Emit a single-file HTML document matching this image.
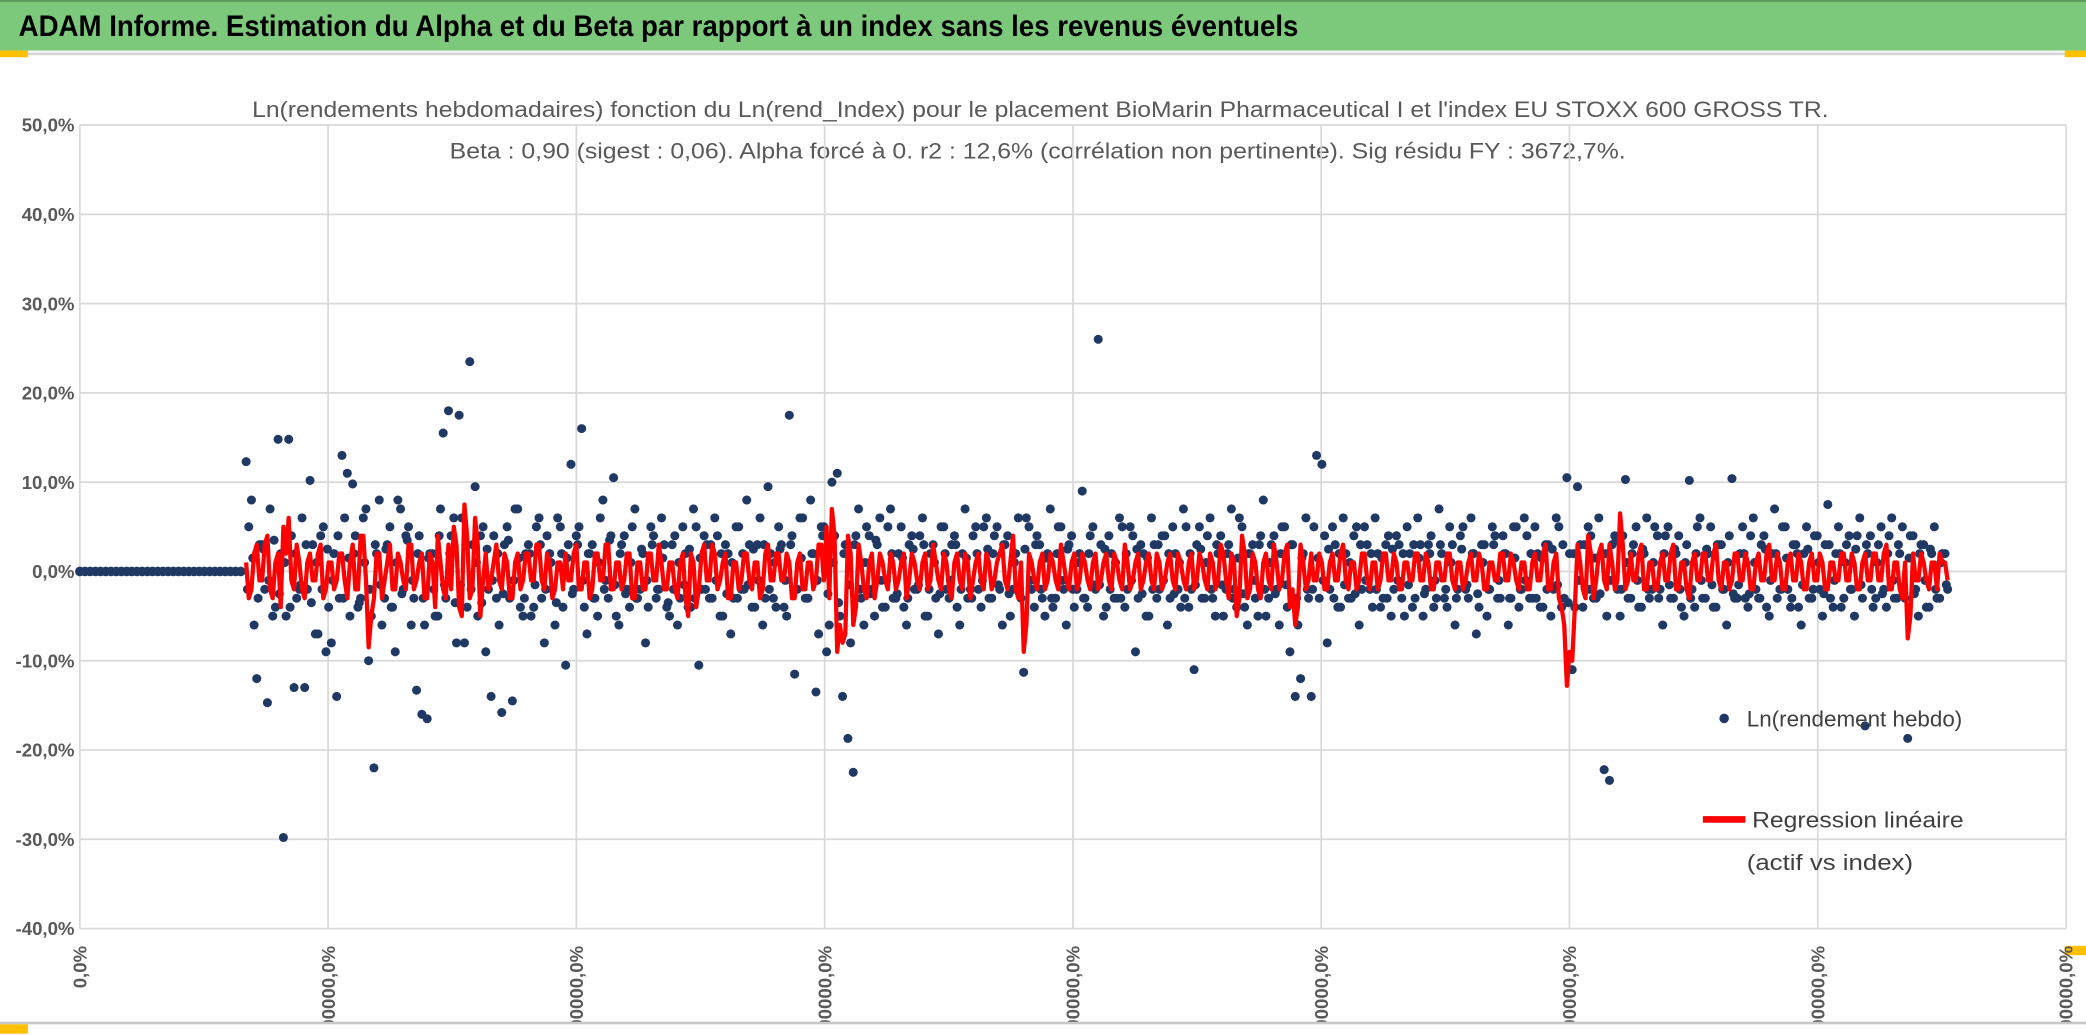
<!DOCTYPE html>
<html><head><meta charset="utf-8"><style>html,body{margin:0;padding:0;background:#fff;overflow:hidden}svg{display:block}</style></head>
<body>
<svg id="chart" width="2086" height="1035" viewBox="0 0 1568 778" preserveAspectRatio="none" xmlns="http://www.w3.org/2000/svg" font-family="'Liberation Sans', sans-serif">
<defs><clipPath id="xclip"><rect x="0" y="700" width="1568" height="68"/></clipPath></defs>
<rect x="0" y="0" width="1568" height="778" fill="#fff"/>
<rect x="0" y="0" width="1568" height="38" fill="#7DC97C"/>
<rect x="0" y="0" width="1568" height="1.5" fill="#5a9a5a"/>
<text x="14" y="27" font-size="22" font-weight="bold" fill="#000" textLength="962" lengthAdjust="spacingAndGlyphs">ADAM Informe. Estimation du Alpha et du Beta par rapport à un index sans les revenus éventuels</text>
<rect x="0" y="39.5" width="1568" height="2" fill="#d4d4d4"/>
<rect x="0" y="38" width="21" height="5" fill="#FFC000"/>
<rect x="1552" y="38" width="16" height="5" fill="#FFC000"/>
<rect x="0" y="768" width="1568" height="2" fill="#c8c8c8"/>
<rect x="0" y="770" width="21" height="7" fill="#FFC000"/>
<rect x="1552" y="711" width="16" height="7" fill="#FFC000"/>
<text x="782" y="88" font-size="17" fill="#595959" text-anchor="middle" textLength="1185" lengthAdjust="spacingAndGlyphs">Ln(rendements hebdomadaires) fonction du Ln(rend_Index) pour le placement BioMarin Pharmaceutical I et l'index EU STOXX 600 GROSS TR.</text>
<text x="780" y="119" font-size="17" fill="#595959" text-anchor="middle" textLength="884" lengthAdjust="spacingAndGlyphs">Beta : 0,90 (sigest : 0,06). Alpha forcé à 0. r2 : 12,6% (corrélation non pertinente). Sig résidu FY : 3672,7%.</text>
<g id="grid"></g>
<g id="ylabels"></g>
<g id="xlabels" clip-path="url(#xclip)"></g>
<g id="blue"></g>
<path id="redline" fill="none" stroke="#FF0000" stroke-width="3.2" stroke-linejoin="round"/>
<circle cx="1296" cy="540" r="3.6" fill="#203864"/>
<text x="1313" y="546" font-size="17" fill="#404040" textLength="162" lengthAdjust="spacingAndGlyphs">Ln(rendement hebdo)</text>
<line x1="1280" y1="616" x2="1312" y2="616" stroke="#FF0000" stroke-width="5"/>
<text x="1317" y="622" font-size="17" fill="#404040" textLength="159" lengthAdjust="spacingAndGlyphs">Regression linéaire</text>
<text x="1313" y="654" font-size="17" fill="#404040" textLength="125" lengthAdjust="spacingAndGlyphs">(actif vs index)</text>
</svg>
<script>
const yTicks=[50,40,30,20,10,0,-10,-20,-30,-40];
const yTickLabels=["50,0%","40,0%","30,0%","20,0%","10,0%","0,0%","-10,0%","-20,0%","-30,0%","-40,0%"];
const xTickLabels=["0,0%","100000,0%","200000,0%","300000,0%","400000,0%","500000,0%","600000,0%","700000,0%","800000,0%"];
const leadZeros=32;
const blue=[12.3,8,-12,3,-14.7,-5,14.8,-29.8,14.8,-13,-2,-13,10.2,-7,4,-9,-8,-14,13,11,
9.8,-4,6,-10,-22,8,-3,5,-9,7,4,-6,-13.3,-16,-16.5,2,-5,15.5,18,6,
17.5,-8,23.5,9.5,4,-9,-14,-3,-15.8,5,-14.5,7,-5,3,-4,6,-8,2,-6,5,
-10.5,12,4,16,-7,3,-5,8,-3,10.5,-6,4,-4,7,-2,-8,5,-3,6,-4,
3,-6,5,-4,7,-10.5,4,-3,6,-5,3,-7,5,-2,8,-4,3,-6,9.5,-3,
5,-4,17.5,-11.5,6,-3,8,-13.5,5,-9,10,11,-14,-18.7,-22.5,7,-6,4,-5,6,
-4,7,-3,5,-6,4,-2,6,-5,3,-7,5,-3,4,-6,7,-2,5,-4,6,
-3,5,-6,4,-2,6,-11.3,5,-4,3,-5,7,-3,5,-6,4,-2,9,-4,5,
26,-5,4,-3,6,-4,5,-9,3,-5,6,-3,4,-6,5,-2,7,-4,-11,5,
-3,6,-5,4,-2,7,-4,5,-6,3,-5,8,-3,4,-6,5,-9,-14,-12,6,
-14,13,12,-8,5,-4,6,-3,4,-6,5,-2,6,-4,3,-5,4,-3,5,-4,
6,-5,3,-4,7,-3,5,-6,4,-2,6,-7,3,-5,5,-3,4,-6,5,-4,
6,-3,5,-4,3,-5,6,-4,10.5,-11,9.5,-4,5,-3,6,-22.2,-23.4,4,-5,10.3,
-3,5,-4,6,-2,4,-6,5,-3,4,-5,10.2,-4,6,-3,5,-4,3,-6,10.4,
-3,5,-4,6,-3,4,-5,7,-2,5,-4,3,-6,5,-3,4,-5,7.5,-4,5,
-3,4,-5,6,-17.3,4,-3,5,-4,6,-3,5,-18.7,4,-5,3,-4,5,-3,2];
const blue2=[5,-6,3,-2,7,-4,2,-5,4,-3,6,-2,3,-7,5,-4,2,-3,6,-5,
4,-3,7,-5,2,-6,3,-4,8,-2,5,-3,4,-6,2,-5,7,-3,4,-8,
6,-4,3,-5,5,-2,4,-6,3,-3,7,-4,2,-5,5,-3,4,-2,6,-4,
3,-2,5,-4,2,-3,6,-1,4,-5,3,-2,5,-3,2,-4,4,-2,3,-5,
4,-3,2,-4,5,-2,3,-3,4,-5,2,-3,5,-2,3,-4,6,-3,2,-4,
3,-5,4,-2,6,-3,2,-7,5,-6,4,-5,3,-8,4,-3,5,-2,3,-4,
5,-3,2,-4,3,-2,4,-5,2,-3,5,-2,3,-4,2,-3,4,-2,5,-3,
4,-2,3,-5,2,-3,6,-2,4,-3,2,-4,5,-2,3,-4,2,-3,4,-2,
3,-4,2,-3,5,-2,4,-3,2,-5,3,-2,4,-3,2,-4,5,-2,3,-3,
4,-3,2,-5,3,-2,6,-4,2,-3,4,-5,3,-2,5,-4,3,-6,2,-3,
5,-3,4,-2,3,-4,2,-3,5,-2,3,-4,2,-3,4,-2,3,-5,2,-3,
3,-2,4,-3,2,-4,3,-2,5,-3,2,-4,3,-2,4,-3,2,-3,5,-2,
4,-3,2,-4,3,-2,5,-3,2,-4,3,-2,4,-3,2,-5,3,-2,4,-3,
3,-4,2,-3,5,-2,4,-3,2,-4,3,-2,5,-3,2,-4,3,-2,4,-3,
2,-3,4,-2,3,-4,2,-3,5,-2,3,-4,2,-3,4,-2,3,-3,2,-4,
3,-2,4,-3,2,-4,3,-2,4,-3,2,-3,4,-2,3,-4,2,-3,2,-2];
const blue3=[-2,1.5,-3,2.5,-1,3.5,-2.5,1,-4,2,-1.5,3,-3.5,1,-2,2.5,-1,4,-3,1.5,
2,-3.5,1,-2,3,-1.5,2.5,-4,1,-2.5,3.5,-1,2,-3,1.5,-2,4,-1.5,2,-3.5,
-1.5,3,-2,1,-3.5,2.5,-1,2,-2.5,3.5,-1,1.5,-3,2,-1.5,3,-2,1,-3.5,2,
1.5,-2.5,3,-1,2,-3,1,-2,3.5,-1.5,2,-2.5,1,-3,2.5,-1,3,-2,1.5,-3.5,
-2,1,-1.5,2.5,-3,1.5,-2,3,-1,2,-2.5,1,-3,2,-1.5,2.5,-1,3,-2,1,
2.5,-1,3,-2,1.5,-3,2,-1,4,-2.5,1,-3.5,2,-1.5,3,-2,1,-2.5,3.5,-1,
-1,2,-2.5,1.5,-3,2.5,-1.5,3,-2,1,-2.5,2,-1,3,-2,1.5,-3,2,-1,2.5,
2,-1.5,3,-2.5,1,-2,2.5,-1,3,-2,1.5,-3,2,-1,2.5,-2,1,-3,2,-1.5,
-1.5,2.5,-2,1,-3,2,-1,2.5,-2.5,1.5,-2,3,-1,2,-2.5,1,-3,2,-1.5,2.5,
1,-2,3,-1.5,2,-3,1.5,-2.5,2,-1,3,-2,1,-2.5,2,-1.5,3,-3,1.5,-2,
-2,1.5,-1,2.5,-3,2,-1.5,1,-2.5,3,-1,2,-2,1.5,-3,2.5,-1,2,-1.5,3,
1.5,-2.5,2,-1,3,-2,1,-3,2.5,-1.5,2,-2.5,1,-2,3,-1,2,-3,1.5,-2,
-1,2,-3,1.5,-2,2.5,-1.5,3,-3.5,2,-1,3,-2,1.5,-2.5,2,-1,3.5,-2,1,
2,-1,2.5,-2,1,-3,2,-1.5,2.5,-2,1,-3,2,-1,2.5,-1.5,3,-2,1,-2.5,
-1.5,2,-2.5,1,-3,2.5,-1,2,-2,1.5,-3,2,-1.5,2.5,-2,1,-2.5,3,-1,2,
1,-2,2.5,-1.5,3,-2,1,-2.5,2,-1,3,-2,1.5,-2.5,2,-1,2.5,-2,1,-1.5];
const red=[1,-2,3,-1,4,-3,2,5,6,-2,1,-3,2,-1,3,-2,1,-1,2,-3,
3,-2,4,-8.5,-3,2,-1,3,-2,1,-2,3,-1,2,-3,1,4,-2,3,5,
-4,7.5,-3,6,-5,2,-1,3,-2,1,-3,2,-1,2,-1,3,-2,1,-2,1,
2,-1,3,-2,1,-2,2,-1,3,-2,1,-1,2,-3,1,-2,2,-1,1,-2,
1,-3,2,-5,1,-2,3,-1,2,-1,2,-3,1,-1,2,-2,1,-2,3,-1,
2,-1,1,-3,2,-2,1,-1,3,5,7,-9,-8,4,-6,3,-2,1,-3,2,
-1,2,-2,1,-3,2,-1,1,-2,3,-1,2,-2,1,-1,2,-3,1,-1,2,
-2,1,3,-2,4,-3,-9,2,-1,1,-2,2,-1,3,-1,1,-2,2,-1,1,
-2,1,-1,2,-1,3,-2,1,-2,1,-1,2,-2,1,-1,2,-1,1,-2,2,
-1,2,-2,3,-1,2,-5,4,-3,2,-2,1,-1,3,-2,2,-4,-6,3,-2,
2,-1,1,-2,2,-1,3,-2,1,-1,2,-2,1,-1,2,-1,1,-2,1,-1,
2,-1,1,-2,1,-1,2,-2,1,-1,2,-1,1,-2,1,-1,2,-1,1,-2,
1,-2,2,-1,3,-2,2,-4,-12.8,-10,3,-2,4,-3,2,-1,3,-2,6.5,-2,
2,-1,3,-2,1,-2,2,-1,3,-2,1,-3,2,-1,2,-1,3,-2,1,-1,
2,-1,1,-2,2,-1,3,-1,1,-2,2,-1,1,-2,2,-1,1,-2,1,-1,
2,-1,1,-2,2,-1,2,-1,3,-2,1,-3,-7.5,2,-1,1,-2,1,2,1];
const redB=[-3,2,-1,3,-2,1,-4,2,-1,3,-2,1,-1,2,-3,1,-2,2,-1,1,
-2,4,-1,-5,2,-3,1,-2,2,-1,3,-2,1,-3,2,-4,1,-3,-2,3,
-5,4,-2,3,-1,-2,1,-1,2,-3,1,-2,2,-1,3,-1,2,-3,1,-2,
-1,2,-2,1,-3,2,-1,3,-2,1,-2,2,-3,1,-2,2,-1,3,-2,1,
-2,1,-3,2,-4,2,-1,3,-2,1,-3,1,-2,2,-1,1,-3,2,-1,2,
-1,2,-3,1,-2,1,-2,3,-1,-3,4,-6,-7,2,-4,1,-3,2,-1,1,
-2,1,-1,2,-1,1,-2,2,-1,1,-2,1,-3,2,-2,1,-1,2,-2,1,
-1,2,-1,1,-2,1,-6,1,-2,2,-1,1,-2,1,-2,2,-1,1,-2,2,
-1,2,-2,1,-2,1,-1,2,-1,2,-2,1,-1,2,-2,1,-2,2,-1,1,
-2,1,-1,2,-3,1,-3,2,-2,1,-3,2,-2,1,-1,3,-2,-4,1,-1,
-1,2,-2,1,-1,2,-1,1,-2,2,-1,1,-2,2,-1,2,-2,1,-1,2,
-1,2,-2,1,-1,2,-1,1,-2,1,-1,2,-2,1,-1,2,-1,2,-1,1,
-2,1,-1,2,-2,1,-3,-6,-9,-4,1,-3,2,-1,3,-2,1,-1,3,-1,
-1,2,-2,1,-2,1,-1,2,-2,1,-2,1,-1,2,-1,2,-1,1,-2,2,
-1,2,-2,1,-1,2,-1,2,-2,1,-1,2,-2,1,-1,2,-2,1,-1,2,
-1,2,-2,1,-1,2,-1,2,-2,1,-2,1,-5,-1,2,-1,1,-2,1,-1];

const NS='http://www.w3.org/2000/svg';
const PL=60,PR=1553,PT=94,PB=698,YMAX=50,YMIN=-40,DS=185,DE=1462;
function yS(v){return PT+(YMAX-v)/(YMAX-YMIN)*(PB-PT);}
function xS(i,n){return DS+i*(DE-DS)/(n-1);}
function xZ(j){return PL+j*(DS-4-PL)/(leadZeros-1);}
function mk(tag,attrs,parent){const e=document.createElementNS(NS,tag);for(const k in attrs)e.setAttribute(k,attrs[k]);parent.appendChild(e);return e;}

const grid=document.getElementById('grid'),yl=document.getElementById('ylabels'),xl=document.getElementById('xlabels');
yTicks.forEach((t,i)=>{
  const g=mk('line',{x1:PL,x2:PR,y1:yS(t),y2:yS(t),stroke:'#d9d9d9','stroke-width':1.3},grid);
  
  
  const tx=mk('text',{x:56,y:yS(t)+5,'font-size':14,'font-weight':'bold',fill:'#595959','text-anchor':'end'},yl);
  
  
  tx.textContent=yTickLabels[i];
});
xTickLabels.forEach((lab,k)=>{
  const x=PL+k*(PR-PL)/(xTickLabels.length-1);
  const g=mk('line',{x1:x,x2:x,y1:PT,y2:PB,stroke:'#d9d9d9','stroke-width':1.3},grid);
  
  
  const tx=mk('text',{x:0,y:0,'font-size':14,'font-weight':'bold',fill:'#595959','text-anchor':'end',transform:'translate('+(x+5)+',711) rotate(-90)'},xl);
  
  
  tx.textContent=lab;
});
const bg=document.getElementById('blue');
for(let j=0;j<leadZeros;j++){
  const c=mk('circle',{cx:xZ(j),cy:yS(0),r:3.6,fill:'#203864'},bg);
  
  
}
blue.forEach((v,i)=>{
  const c=mk('circle',{cx:xS(i,blue.length),cy:yS(v),r:3.4,fill:'#203864'},bg);
  
  
});
blue2.forEach((v,i)=>{
  const c=mk('circle',{cx:xS(i,blue2.length)+2,cy:yS(v),r:3.4,fill:'#203864'},bg);
  
  
});
blue3.forEach((v,i)=>{
  const c=mk('circle',{cx:xS(i,blue3.length)+1,cy:yS(v),r:3.4,fill:'#203864'},bg);
  
  
});
let d='';
red.forEach((v,i)=>{
  const x=xS(i,red.length);
  d+=(i?'L':'M')+x.toFixed(1)+','+yS(v).toFixed(1);
  d+='L'+(x+2).toFixed(1)+','+yS(redB[i]).toFixed(1);
});
document.getElementById('redline').setAttribute('d',d);
</script>
</body></html>
